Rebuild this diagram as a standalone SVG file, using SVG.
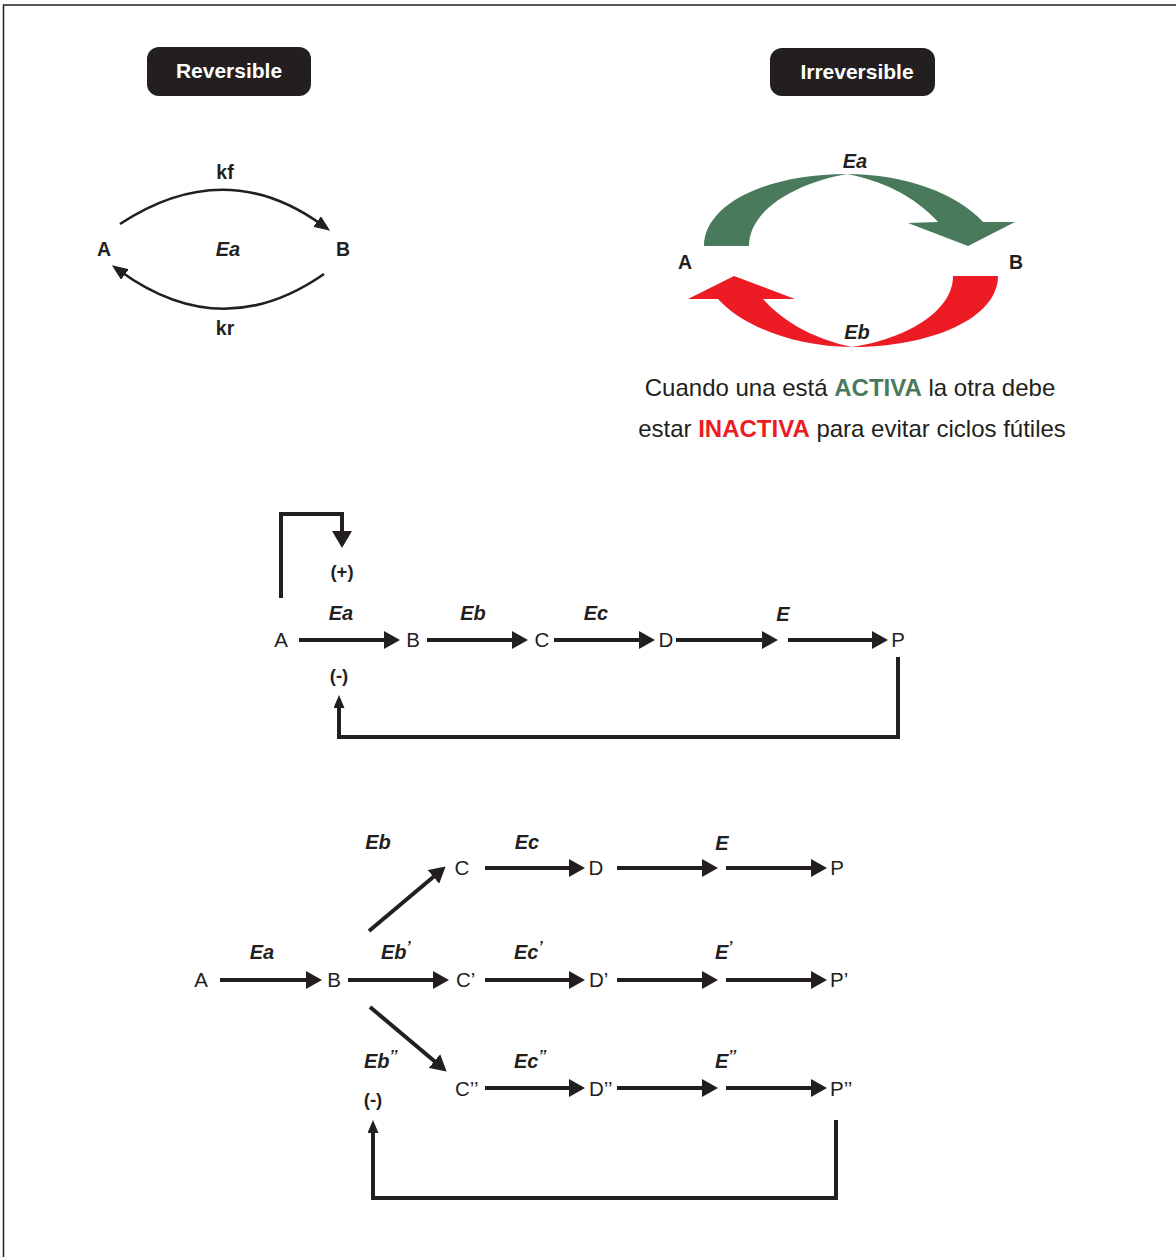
<svg xmlns="http://www.w3.org/2000/svg" width="1176" height="1257" viewBox="0 0 1176 1257">
<defs>
<style>
.t{font-family:"Liberation Sans",Arial,sans-serif;fill:#231f20}
.b{font-weight:bold}
.bi{font-weight:bold;font-style:italic}
.n{font-size:20.5px}
.e{font-size:20px}
.ln{stroke:#231f20;stroke-width:4;fill:none}
.thin{stroke:#231f20;stroke-width:2.6;fill:none}
</style>
<marker id="ah" viewBox="0 0 16 18" markerWidth="16" markerHeight="18" refX="6" refY="9" orient="auto" markerUnits="userSpaceOnUse"><path d="M0,0L16,9L0,18z" fill="#231f20"/></marker>
<marker id="ahb" viewBox="0 0 17 20" markerWidth="17" markerHeight="20" refX="7" refY="10" orient="auto" markerUnits="userSpaceOnUse"><path d="M0,0L17,10L0,20z" fill="#231f20"/></marker>
<marker id="ahs" viewBox="0 0 13 11" markerWidth="13" markerHeight="11" refX="5" refY="5.5" orient="auto" markerUnits="userSpaceOnUse"><path d="M0,0L13,5.5L0,11z" fill="#231f20"/></marker>
<marker id="ahr" viewBox="0 0 16 13" markerWidth="16" markerHeight="13" refX="6" refY="6.5" orient="auto" markerUnits="userSpaceOnUse"><path d="M0,0L16,6.5L0,13z" fill="#231f20"/></marker>
</defs>
<rect x="0" y="0" width="1176" height="1257" fill="#fff"/>
<rect x="3.5" y="5" width="1200" height="1300" fill="none" stroke="#231f20" stroke-width="1.5"/>

<g id="hdr-reversible">
<rect x="147" y="47" width="164" height="49" rx="12" fill="#231f20"/>
<text x="229" y="78" text-anchor="middle" font-weight="bold" font-family="Liberation Sans,Arial,sans-serif" font-size="21" fill="#fff">Reversible</text>
</g>
<g id="hdr-irreversible">
<rect x="770" y="48" width="165" height="48" rx="12" fill="#231f20"/>
<text x="857" y="79" text-anchor="middle" font-weight="bold" font-family="Liberation Sans,Arial,sans-serif" font-size="21" fill="#fff">Irreversible</text>
</g>

<g id="rev-A"><text x="104" y="256" text-anchor="middle" class="t b" font-size="19.5">A</text></g>
<g id="rev-B"><text x="343" y="256" text-anchor="middle" class="t b" font-size="19.5">B</text></g>
<g id="rev-labels">
<text x="228" y="256" text-anchor="middle" class="t bi" font-size="20">Ea</text>
<text x="225" y="179" text-anchor="middle" class="t b" font-size="19.5">kf</text>
<text x="225" y="335" text-anchor="middle" class="t b" font-size="19.5">kr</text>
</g>

<g id="irr-arrows">
<path d="M704,246 C704,205 765,174 847,174 C905,174 958,194 983,222 L1015,222 L968,246 L908,223 L938,222 C915,196 880,180 847,174 C800,182 749,208 749,246 Z" fill="#487a5b"/>
<path d="M998,276 C998,318 932,347 852,347 C795,347 742,326 718,299 L688,299 L734,276 L795,299 L763,299 C785,324 818,340 852,347 C905,339 953,312 953,276 Z" fill="#ed1c24"/>
</g>
<g id="irr-A"><text x="685" y="269" text-anchor="middle" class="t b" font-size="19.5">A</text></g>
<g id="irr-B"><text x="1016" y="269" text-anchor="middle" class="t b" font-size="19.5">B</text></g>
<g id="irr-labels">
<text x="855" y="168" text-anchor="middle" class="t bi" font-size="20">Ea</text>
<text x="857" y="339" text-anchor="middle" class="t bi" font-size="20">Eb</text>
</g>
<g id="note">
<text x="850" y="396" text-anchor="middle" class="t" font-size="24">Cuando una está <tspan font-weight="bold" fill="#487a5b">ACTIVA</tspan> la otra debe</text>
<text x="852" y="437" text-anchor="middle" class="t" font-size="24">estar <tspan font-weight="bold" fill="#ed1c24">INACTIVA</tspan> para evitar ciclos fútiles</text>
</g>

<g id="m-nodes">
<text x="281" y="647" text-anchor="middle" class="t n">A</text>
<text x="413" y="647" text-anchor="middle" class="t n">B</text>
<text x="542" y="647" text-anchor="middle" class="t n">C</text>
<text x="666" y="647" text-anchor="middle" class="t n">D</text>
<text x="898" y="647" text-anchor="middle" class="t n">P</text>
</g>
<g id="m-labels">
<text x="341" y="620" text-anchor="middle" class="t bi e">Ea</text>
<text x="473" y="620" text-anchor="middle" class="t bi e">Eb</text>
<text x="596" y="620" text-anchor="middle" class="t bi e">Ec</text>
<text x="783" y="621" text-anchor="middle" class="t bi e">E</text>
<text x="342" y="578" text-anchor="middle" class="t b" font-size="18.5">(+)</text>
<text x="339" y="682" text-anchor="middle" class="t b" font-size="18.5">(-)</text>
</g>

<g id="b-nodes">
<text x="201" y="987" text-anchor="middle" class="t n">A</text>
<text x="334" y="987" text-anchor="middle" class="t n">B</text>
<text x="462" y="875" text-anchor="middle" class="t n">C</text>
<text x="596" y="875" text-anchor="middle" class="t n">D</text>
<text x="837" y="875" text-anchor="middle" class="t n">P</text>
<text x="456" y="987" class="t n">C’</text>
<text x="589" y="987" class="t n">D’</text>
<text x="830" y="987" class="t n">P’</text>
<text x="455" y="1096" class="t n">C’’</text>
<text x="589" y="1096" class="t n">D’’</text>
<text x="830" y="1096" class="t n">P’’</text>
</g>
<g id="b-labels">
<text x="378" y="849" text-anchor="middle" class="t bi e">Eb</text>
<text x="527" y="849" text-anchor="middle" class="t bi e">Ec</text>
<text x="722" y="850" text-anchor="middle" class="t bi e">E</text>
<text x="262" y="959" text-anchor="middle" class="t bi e">Ea</text>
<text x="381" y="959" class="t bi e">Eb<tspan font-size="15" dy="-8">’</tspan></text>
<text x="514" y="959" class="t bi e">Ec<tspan font-size="15" dy="-8">’</tspan></text>
<text x="715" y="959" class="t bi e">E<tspan font-size="15" dy="-8">’</tspan></text>
<text x="364" y="1068" class="t bi e">Eb<tspan font-size="15" dy="-8">’’</tspan></text>
<text x="514" y="1068" class="t bi e">Ec<tspan font-size="15" dy="-8">’’</tspan></text>
<text x="715" y="1068" class="t bi e">E<tspan font-size="15" dy="-8">’’</tspan></text>
<text x="373" y="1106" text-anchor="middle" class="t b" font-size="18.5">(-)</text>
</g>

<g id="connectors">
<path class="thin" d="M120,224 Q225,155 322,225" marker-end="url(#ahr)"/>
<path class="thin" d="M324,274 Q222,345 120,271" marker-end="url(#ahr)"/>

<line class="ln" x1="299" y1="640" x2="390" y2="640" marker-end="url(#ah)"/>
<line class="ln" x1="427" y1="640" x2="518" y2="640" marker-end="url(#ah)"/>
<line class="ln" x1="554" y1="640" x2="645" y2="640" marker-end="url(#ah)"/>
<line class="ln" x1="676" y1="640" x2="768" y2="640" marker-end="url(#ah)"/>
<line class="ln" x1="788" y1="640" x2="878" y2="640" marker-end="url(#ah)"/>
<path class="ln" d="M281,598 V514 H342 V538" marker-end="url(#ahb)"/>
<path class="ln" d="M898,657 V737 H339 V703" marker-end="url(#ahs)"/>

<line class="ln" x1="220" y1="980" x2="312" y2="980" marker-end="url(#ah)"/>
<line class="ln" x1="348" y1="980" x2="439" y2="980" marker-end="url(#ah)"/>
<line class="ln" x1="369" y1="931" x2="438" y2="873" marker-end="url(#ah)"/>
<line class="ln" x1="370" y1="1007" x2="439" y2="1065" marker-end="url(#ah)"/>
<line class="ln" x1="485" y1="868" x2="575" y2="868" marker-end="url(#ah)"/>
<line class="ln" x1="617" y1="868" x2="708" y2="868" marker-end="url(#ah)"/>
<line class="ln" x1="726" y1="868" x2="817" y2="868" marker-end="url(#ah)"/>
<line class="ln" x1="485" y1="980" x2="575" y2="980" marker-end="url(#ah)"/>
<line class="ln" x1="617" y1="980" x2="708" y2="980" marker-end="url(#ah)"/>
<line class="ln" x1="726" y1="980" x2="817" y2="980" marker-end="url(#ah)"/>
<line class="ln" x1="485" y1="1088" x2="575" y2="1088" marker-end="url(#ah)"/>
<line class="ln" x1="617" y1="1088" x2="708" y2="1088" marker-end="url(#ah)"/>
<line class="ln" x1="726" y1="1088" x2="817" y2="1088" marker-end="url(#ah)"/>
<path class="ln" d="M836,1120 V1198 H373 V1128" marker-end="url(#ahs)"/>
</g>
</svg>
